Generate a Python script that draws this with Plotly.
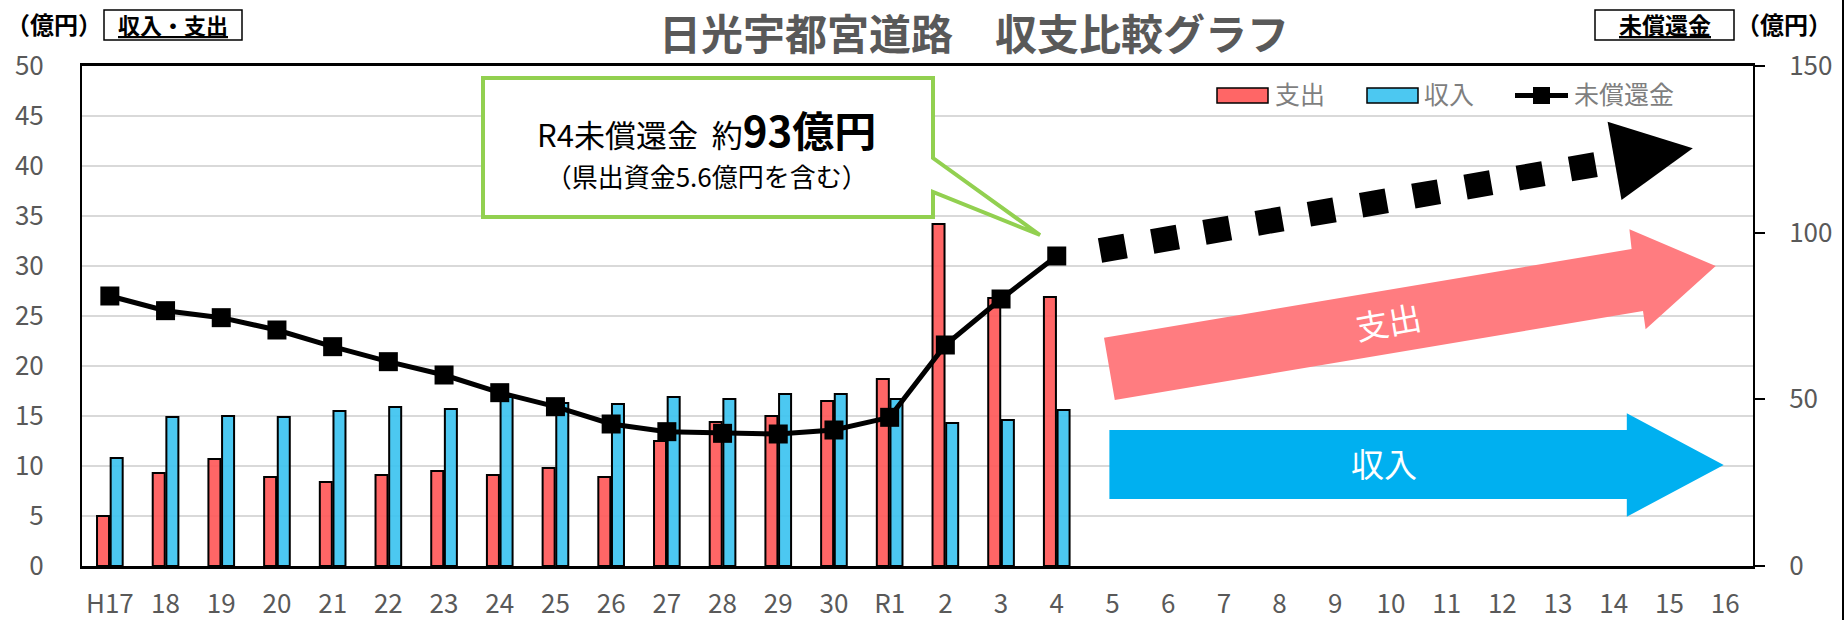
import plotly.graph_objects as go

# ---------------- data ----------------
categories = ["H17", "18", "19", "20", "21", "22", "23", "24", "25", "26", "27", "28", "29", "30",
              "R1", "2", "3", "4", "5", "6", "7", "8", "9", "10", "11", "12", "13", "14", "15", "16"]
expenditure = [5.0, 9.3, 10.7, 8.9, 8.4, 9.1, 9.5, 9.1, 9.8, 8.9, 12.5, 14.4, 15.0, 16.5,
               18.7, 34.2, 26.8, 26.9]
revenue = [10.8, 14.9, 15.0, 14.9, 15.5, 15.9, 15.7, 16.9, 16.3, 16.2, 16.9, 16.7, 17.2, 17.2,
           16.7, 14.3, 14.6, 15.6]
outstanding = [81.0, 76.6, 74.5, 70.8, 65.8, 61.3, 57.3, 52.0, 47.8, 42.6, 40.3, 39.8, 39.6, 40.8,
               44.6, 66.3, 80.1, 93.0]
left_ticks = list(range(0, 51, 5))
right_ticks = [0, 50, 100, 150]

n_obs = len(expenditure)
cats_obs = categories[:n_obs]

FONT = "Noto Sans CJK JP"
GRAY = "#595959"

# page size and plot area (page pixel coordinates)
W, H = 1845, 620
L, R, T, B = 82, 1753, 66, 566


def px(x):
    return (x - L) / (R - L)


def py(y):
    return (B - y) / (B - T)


def path(points):
    s = "M " + " L ".join(f"{px(x):.5f},{py(y):.5f}" for x, y in points) + " Z"
    return s


fig = go.Figure()

fig.add_trace(go.Bar(
    x=cats_obs, y=expenditure, name="支出",
    marker=dict(color="rgba(255,85,85,0.9)", line=dict(color="black", width=2)),
    showlegend=False,
))
fig.add_trace(go.Bar(
    x=cats_obs, y=revenue, name="収入",
    marker=dict(color="rgba(57,194,240,0.9)", line=dict(color="black", width=2)),
    showlegend=False,
))
fig.add_trace(go.Scatter(
    x=cats_obs, y=outstanding, name="未償還金", yaxis="y2", mode="lines+markers",
    line=dict(color="black", width=5),
    marker=dict(symbol="square", size=19, color="black"),
    showlegend=False, cliponaxis=False,
))

shapes = []
annotations = []

# decorative: pink (支出) arrow
pink_pts = [(1104, 337.7), (1631.6, 249), (1629.4, 229.3), (1715.7, 266),
            (1645.6, 329.3), (1643, 311), (1114.8, 400)]
shapes.append(dict(type="path", xref="paper", yref="paper", path=path(pink_pts),
                   fillcolor="#FF7C80", line=dict(width=0), layer="above"))
# blue (収入) arrow
blue_pts = [(1109.4, 430), (1626.8, 430), (1626.8, 413.3), (1723.7, 465),
            (1626.8, 516.7), (1626.8, 499), (1109.4, 499)]
shapes.append(dict(type="path", xref="paper", yref="paper", path=path(blue_pts),
                   fillcolor="#00B0F0", line=dict(width=0), layer="above"))
# dotted projection + arrowhead
shapes.append(dict(type="line", xref="paper", yref="paper",
                   x0=px(1100), y0=py(250.5), x1=px(1607), y1=py(162.6),
                   line=dict(color="black", width=25, dash="26px,27px")))
shapes.append(dict(type="path", xref="paper", yref="paper",
                   path=path([(1607.6, 121.7), (1692.8, 148.3), (1621.5, 200)]),
                   fillcolor="black", line=dict(width=0)))
# callout box
callout = [(483, 78), (933, 78), (933, 158), (1040, 235), (933, 192), (933, 217), (483, 217)]
shapes.append(dict(type="path", xref="paper", yref="paper", path=path(callout),
                   fillcolor="white", line=dict(color="#92D050", width=4), layer="above"))
# unit label boxes
shapes.append(dict(type="rect", xref="paper", yref="paper",
                   x0=px(104), x1=px(242), y0=py(10), y1=py(40),
                   line=dict(color="black", width=1.5), fillcolor="white"))
shapes.append(dict(type="rect", xref="paper", yref="paper",
                   x0=px(1595), x1=px(1734), y0=py(10), y1=py(40),
                   line=dict(color="black", width=1.5), fillcolor="white"))
# right image edge line
shapes.append(dict(type="line", xref="paper", yref="paper",
                   x0=px(1843), x1=px(1843), y0=py(0), y1=py(620),
                   line=dict(color="black", width=2)))

# custom legend
shapes.append(dict(type="rect", xref="paper", yref="paper",
                   x0=px(1217), x1=px(1268), y0=py(88), y1=py(103),
                   fillcolor="rgba(255,85,85,0.9)", line=dict(color="black", width=1.5)))
shapes.append(dict(type="rect", xref="paper", yref="paper",
                   x0=px(1367), x1=px(1418), y0=py(88), y1=py(103),
                   fillcolor="rgba(57,194,240,0.9)", line=dict(color="black", width=1.5)))
shapes.append(dict(type="line", xref="paper", yref="paper",
                   x0=px(1515), x1=px(1568), y0=py(95.5), y1=py(95.5),
                   line=dict(color="black", width=5)))
shapes.append(dict(type="rect", xref="paper", yref="paper",
                   x0=px(1533), x1=px(1550), y0=py(87), y1=py(104),
                   fillcolor="black", line=dict(width=0)))


def ann(x, y, text, size, color="black", xanchor="center", angle=0):
    annotations.append(dict(xref="paper", yref="paper", x=px(x), y=py(y), text=text,
                            showarrow=False, xanchor=xanchor, yanchor="middle",
                            textangle=angle,
                            font=dict(family=FONT, size=size, color=color)))


LEG = "#7F7F7F"
ann(1273, 93, "支出", 25, LEG, "left")
ann(1422, 93, "収入", 25, LEG, "left")
ann(1572, 93, "未償還金", 25, LEG, "left")

ann(974, 32, "<b>日光宇都宮道路　収支比較グラフ</b>", 42, GRAY)
ann(54, 24, "<b>（億円）</b>", 24, "black")
ann(173, 24, "<b><u>収入・支出</u></b>", 22, "black")
ann(1665, 24, "<b><u>未償還金</u></b>", 23, "black")
ann(1784, 24, "<b>（億円）</b>", 24, "black")

ann(706, 146,
    "R4未償還金  約<b><span style='font-size:42px'>93億円</span></b><br>"
    "<span style='font-size:26px'>（県出資金5.6億円を含む）</span>", 31, "black")

ann(1388, 321, "支出", 33, "white", angle=-10)
ann(1384, 463, "収入", 33, "white")

TICKFONT = dict(family=FONT, size=26, color=GRAY)

fig.update_layout(
    width=W, height=H,
    margin=dict(l=L, r=W - R, t=T, b=H - B, pad=0, autoexpand=False),
    paper_bgcolor="white", plot_bgcolor="white",
    barmode="group", bargap=0.51, bargroupgap=0.12,
    font=dict(family=FONT, size=26, color=GRAY),
    shapes=shapes, annotations=annotations,
    xaxis=dict(type="category", categoryorder="array", categoryarray=categories,
               range=[-0.5, len(categories) - 0.5], automargin=False,
               showgrid=False, showline=True, linecolor="black", linewidth=2.5,
               mirror=True, ticks="", ticklabelstandoff=13, tickfont=TICKFONT),
    yaxis=dict(range=[0, 50], tickvals=left_ticks, showgrid=True, gridcolor="#D9D9D9",
               gridwidth=2, zeroline=False, showline=True, linecolor="black", linewidth=2,
               ticks="", ticklabelstandoff=31, automargin=False, tickfont=TICKFONT),
    yaxis2=dict(range=[0, 150], tickvals=right_ticks, overlaying="y", side="right",
                showgrid=False, zeroline=False, showline=True, linecolor="black", linewidth=2,
                ticks="outside", ticklen=10, tickwidth=2, tickcolor="black",
                ticklabelstandoff=19, automargin=False, tickfont=TICKFONT),
)

fig.write_html("out.html",
               config={"displayModeBar": False},
               post_script="document.body.style.margin='0';document.body.style.overflow='hidden';")
